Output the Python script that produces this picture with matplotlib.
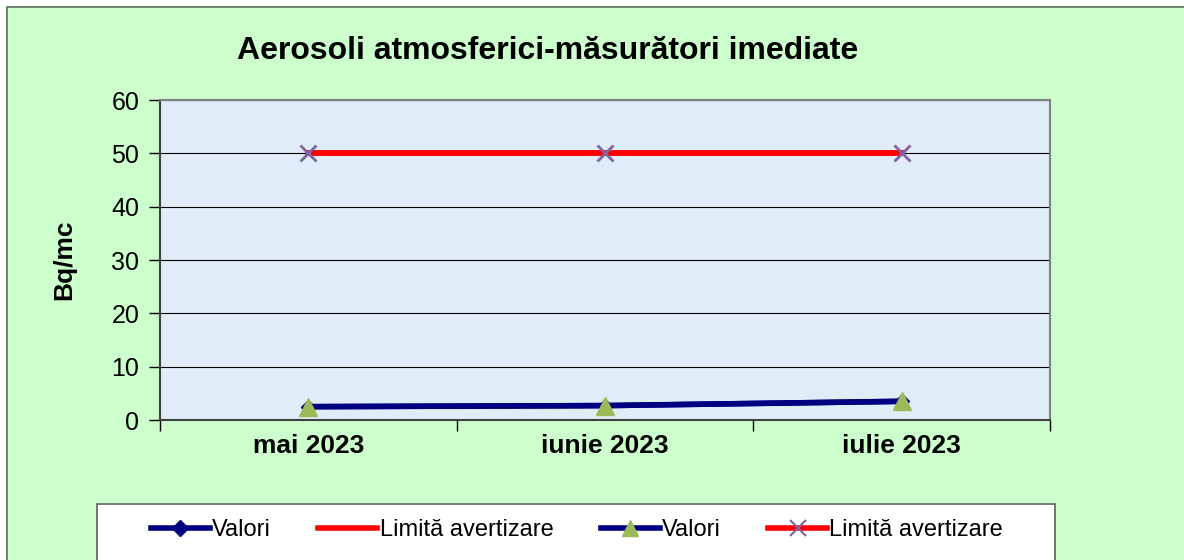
import matplotlib.pyplot as plt
from matplotlib.patches import Rectangle
from matplotlib.lines import Line2D

luni = ["mai 2023", "iunie 2023", "iulie 2023"]
valori = [2.5, 2.7, 3.5]
limita = [50, 50, 50]
yticks = [0, 10, 20, 30, 40, 50, 60]

plt.rcParams['font.family'] = ['Liberation Sans', 'DejaVu Sans']

fig = plt.figure(figsize=(11.84, 5.6), dpi=100)
fig.patch.set_facecolor("white")
# chenarul exterior (verde)
fig.patches.append(Rectangle((7 / 1184, -0.01), 1.0, 553 / 560 + 0.01, transform=fig.transFigure,
                             facecolor="#CCFFCC", edgecolor="#5A6E5A", linewidth=1.2, zorder=-2))
# caseta legendei
fig.patches.append(Rectangle((97 / 1184, -0.01), 958 / 1184, 56 / 560 + 0.01, transform=fig.transFigure,
                             facecolor="white", edgecolor="#606060", linewidth=1.2, zorder=-1))

ax = fig.add_axes([160 / 1184, 140 / 560, 890 / 1184, 320 / 560])
ax.set_facecolor("#E0ECF8")
x = list(range(len(luni)))

ax.plot(x, valori, color="#000080", lw=4, marker="D", ms=7, zorder=3)
ax.plot(x, limita, color="#FF0000", lw=4, zorder=3)
ax.plot(x, valori, color="#000080", lw=4, marker="^", ms=13,
        markerfacecolor="#9BBB59", markeredgecolor="#9BBB59", zorder=4)
ax.plot(x, limita, color="#FF0000", lw=4, marker="x", ms=12, mew=2,
        markeredgecolor="#8064A2", zorder=4)

ax.set_xlim(-0.5, 2.5)
ax.set_ylim(0, 60)
ax.set_yticks(yticks)
ax.tick_params(axis="y", labelsize=18, length=8, width=1, direction="out", pad=7)
ax.yaxis.grid(True, color="black", lw=0.8)
ax.set_axisbelow(True)
ax.set_xticks(x)
ax.set_xticklabels(luni, fontsize=19, fontweight="bold")
ax.tick_params(axis="x", length=0, pad=10)
ax.set_xticks([-0.5, 0.5, 1.5, 2.5], minor=True)
ax.tick_params(axis="x", which="minor", length=8, width=1)
for side in ["top", "right"]:
    ax.spines[side].set_color("#808080")
    ax.spines[side].set_linewidth(1.5)
for side in ["left", "bottom"]:
    ax.spines[side].set_color("#404040")
    ax.spines[side].set_linewidth(1.5)

ax.set_ylabel("Bq/mc", fontsize=19, fontweight="bold", labelpad=25)
fig.text(548 / 1184, 1 - 51 / 560, "Aerosoli atmosferici-măsurători imediate",
         ha="center", va="center", fontsize=23, fontweight="bold")

handles = [
    Line2D([], [], color="#000080", lw=4, marker="D", ms=8),
    Line2D([], [], color="#FF0000", lw=4),
    Line2D([], [], color="#000080", lw=4, marker="^", ms=12,
           markerfacecolor="#9BBB59", markeredgecolor="#9BBB59"),
    Line2D([], [], color="#FF0000", lw=4, marker="x", ms=12, mew=1.5,
           markeredgecolor="#8064A2"),
]
labels = ["Valori", "Limită avertizare", "Valori", "Limită avertizare"]
leg = fig.legend(handles, labels, ncol=4, loc="center",
                 bbox_to_anchor=(577 / 1184, 1 - 530 / 560), fontsize=17,
                 frameon=False, handlelength=2.5, handletextpad=0.1,
                 columnspacing=2.0)

fig.savefig("out.png", dpi=100, facecolor=fig.get_facecolor())
